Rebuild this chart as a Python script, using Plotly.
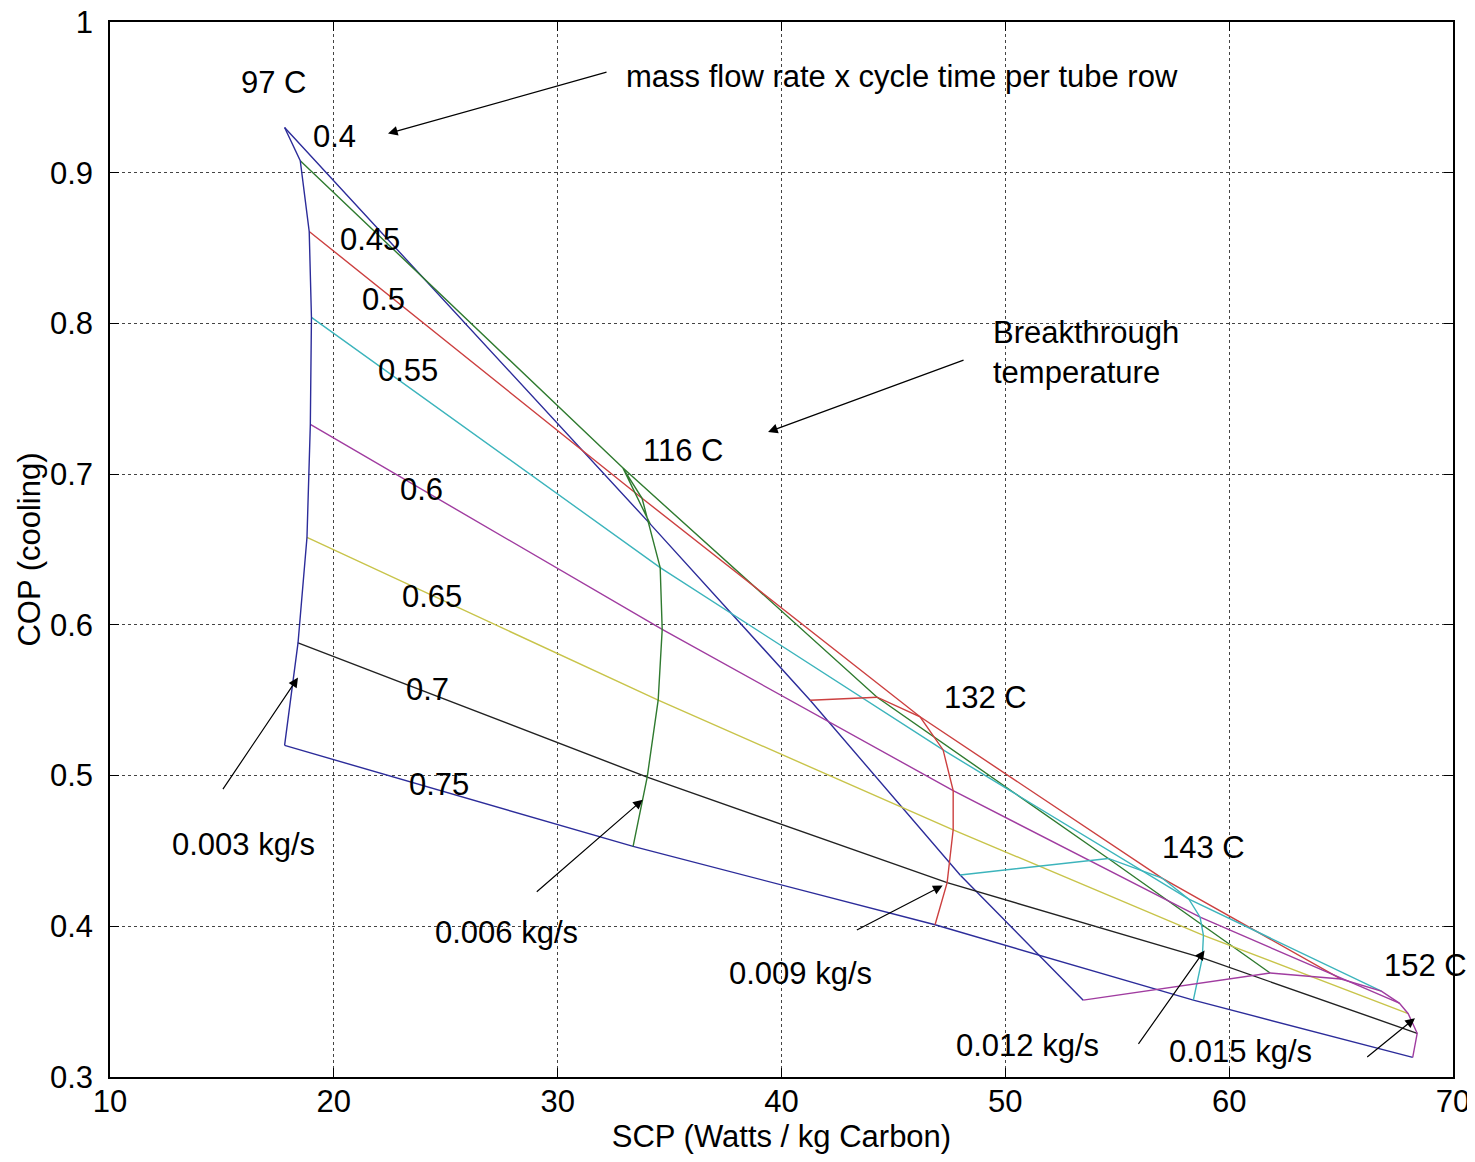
import plotly.graph_objects as go

# Carpet data: mass flow rate x cycle time per tube row (rows) for each mass flow rate (columns)
products = ["0.4", "0.45", "0.5", "0.55", "0.6", "0.65", "0.7", "0.75"]
flows = ["0.003 kg/s", "0.006 kg/s", "0.009 kg/s", "0.012 kg/s", "0.015 kg/s"]
breakthrough = ["97 C", "116 C", "132 C", "143 C", "152 C"]

scp_f003 = [17.8, 18.5, 18.9, 19.0, 18.95, 18.8, 18.4, 17.8]
cop_f003 = [0.930, 0.908, 0.861, 0.804, 0.733, 0.658, 0.588, 0.520]
scp_f006 = [34.13, 32.92, 33.77, 34.58, 34.67, 34.49, 34.0, 33.37]
cop_f006 = [0.667, 0.704, 0.684, 0.638, 0.597, 0.550, 0.499, 0.453]
scp_f009 = [41.28, 44.27, 46.19, 47.22, 47.67, 47.67, 47.40, 46.86]
cop_f009 = [0.550, 0.552, 0.539, 0.517, 0.490, 0.464, 0.429, 0.401]
scp_f012 = [47.98, 54.6, 57.0, 58.2, 58.7, 58.85, 58.8, 58.4]
cop_f012 = [0.434, 0.445, 0.432, 0.418, 0.406, 0.394, 0.379, 0.351]
scp_f015 = [53.48, 61.83, 65.0, 66.8, 67.6, 68.0, 68.4, 68.2]
cop_f015 = [0.351, 0.369, 0.365, 0.357, 0.349, 0.342, 0.329, 0.313]

SCP = [scp_f003, scp_f006, scp_f009, scp_f012, scp_f015]
COP = [cop_f003, cop_f006, cop_f009, cop_f012, cop_f015]

# MATLAB default colour order (as rendered)
mcolors = ["#2c2c9a", "#2f7a2f", "#cc4040", "#3cb4bc", "#a03ca0", "#c8c44a", "#222222"]

fig = go.Figure()

# constant product lines
for i, p in enumerate(products):
    fig.add_trace(go.Scatter(
        x=[SCP[f][i] for f in range(len(flows))],
        y=[COP[f][i] for f in range(len(flows))],
        mode="lines", line=dict(color=mcolors[i % 7], width=1.4),
        name=p, showlegend=False, hoverinfo="skip"))

# constant flow-rate curves
for f, fl in enumerate(flows):
    fig.add_trace(go.Scatter(
        x=SCP[f], y=COP[f], mode="lines",
        line=dict(color=mcolors[f % 7], width=1.4),
        name=fl, showlegend=False, hoverinfo="skip"))

FONT = dict(family="Liberation Sans, Arial, sans-serif", size=31, color="black")

texts = [
    ("97 C", 17.3, 0.960),
    ("mass flow rate x cycle time per tube row", 45.4, 0.964),
    ("0.4", 20.05, 0.924),
    ("0.45", 21.6, 0.856),
    ("0.5", 22.2, 0.816),
    ("0.55", 23.3, 0.769),
    ("0.6", 23.9, 0.690),
    ("0.65", 24.4, 0.619),
    ("0.7", 24.2, 0.557),
    ("0.75", 24.7, 0.494),
    ("116 C", 35.6, 0.716),
    ("132 C", 49.1, 0.552),
    ("143 C", 58.85, 0.452),
    ("152 C", 68.75, 0.374),
    ("0.003 kg/s", 15.95, 0.454),
    ("0.006 kg/s", 27.7, 0.396),
    ("0.009 kg/s", 40.85, 0.369),
    ("0.012 kg/s", 51.0, 0.321),
    ("0.015 kg/s", 60.5, 0.317),
]
for t, x, y in texts:
    fig.add_annotation(x=x, y=y, text=t, showarrow=False, font=FONT,
                       xanchor="center", yanchor="middle")

fig.add_annotation(x=49.35, y=0.781, text="Breakthrough<br>temperature", showarrow=False,
                   font=FONT, xanchor="left", yanchor="middle", align="left")

arrows = [
    (22.42, 0.926, 32.25, 0.967),
    (39.4, 0.728, 48.2, 0.776),
    (18.4, 0.565, 15.0, 0.490),
    (33.8, 0.484, 29.0, 0.422),
    (47.2, 0.427, 43.3, 0.397),
    (58.9, 0.384, 55.9, 0.321),
    (68.3, 0.339, 66.1, 0.3125),
]
for x, y, ax, ay in arrows:
    fig.add_annotation(x=x, y=y, ax=ax, ay=ay, xref="x", yref="y", axref="x", ayref="y",
                       text="", showarrow=True, arrowhead=2, arrowsize=1.6,
                       arrowwidth=1.2, arrowcolor="black")

axis_common = dict(
    showline=True, linecolor="black", linewidth=1.5, mirror="ticks",
    ticks="inside", ticklen=9, tickcolor="black",
    showgrid=True, gridcolor="#444444", griddash="dot", gridwidth=1,
    zeroline=False, tickfont=FONT, automargin=False, ticklabeloverflow="allow",
)

fig.update_xaxes(range=[10, 70], tickvals=[10, 20, 30, 40, 50, 60, 70],
                 title=dict(text="SCP (Watts / kg Carbon)", font=FONT, standoff=2),
                 ticklabelstandoff=-4,
                 **axis_common)
fig.update_yaxes(range=[0.3, 1], tickvals=[0.3, 0.4, 0.5, 0.6, 0.7, 0.8, 0.9, 1.0],
                 ticktext=["0.3", "0.4", "0.5", "0.6", "0.7", "0.8", "0.9", "1"],
                 title=dict(text="COP (cooling)", font=FONT, standoff=0),
                 ticklabelstandoff=9,
                 **axis_common)

# page body adds an 8px margin; compensate so the axes box sits where the reference has it
fig.update_layout(
    width=1467, height=1146,
    margin=dict(l=102, r=22, t=14, b=77),
    plot_bgcolor="white", paper_bgcolor="white",
    showlegend=False,
)

fig.write_html("out.html")
